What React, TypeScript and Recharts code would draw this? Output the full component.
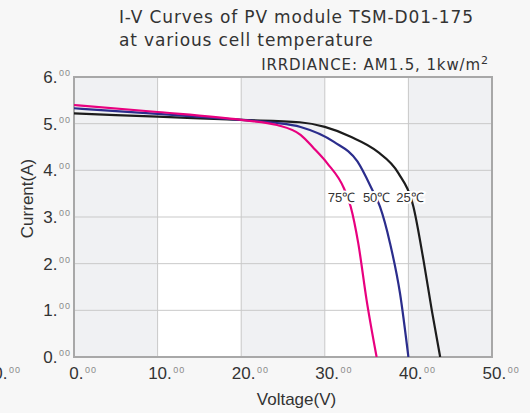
import React from 'react';
import {
  LineChart,
  Line,
  XAxis,
  YAxis,
  CartesianGrid,
  ReferenceArea,
  ReferenceDot,
} from 'recharts';

// voltage (V) / current (A)
const V_25 = [0, 10, 20, 27, 30, 33.1, 36.3, 38.8, 40.6, 41.8, 42.8, 43.8];
const I_25 = [5.22, 5.15, 5.08, 5.03, 4.93, 4.72, 4.4, 3.94, 3.22, 2.08, 1.0, 0];

const V_50 = [0, 10, 20, 24, 27.1, 31.1, 33.9, 35.6, 36.6, 37.8, 39.0, 40.0];
const I_50 = [5.33, 5.21, 5.08, 5.02, 4.93, 4.61, 4.19, 3.61, 3.22, 2.44, 1.36, 0];

const V_75 = [0, 10, 20, 24.3, 27.1, 28.7, 30.3, 32.3, 33.1, 34.0, 35.0, 36.2];
const I_75 = [5.4, 5.25, 5.08, 4.97, 4.76, 4.47, 4.15, 3.61, 3.22, 2.44, 1.22, 0];

const VOLTAGE_TICKS = [0, 10, 20, 30, 40, 50];
const CURRENT_TICKS = [0, 1, 2, 3, 4, 5, 6];

const TEMP_LABELS = ['75℃', '50℃', '25℃'];
const TEMP_LABEL_V = [32.0, 36.2, 40.2];
const TEMP_LABEL_I = 3.42;

const toPoints = (vs: number[], is: number[]) => vs.map((v, k) => ({ v, i: is[k] }));

const COLORS = {
  t25: '#1c1c1c',
  t50: '#2b2d8c',
  t75: '#e8007f',
};

const TICK_FONT = '"Liberation Sans", Arial, sans-serif';
const X_STEP = (492 - 74) / 5;

const XTick = ({ x, y, payload }: any) => {
  const draw = (cx: number, val: number, key: string) => {
    const digits = String(val);
    const w = digits.replace('-', '').length * 9.45 + (val < 0 ? 5.7 : 0);
    return (
      <text key={key} x={cx - w / 2} y={y + 14} fontFamily={TICK_FONT} fill="#333">
        <tspan fontSize={17}>{digits}.</tspan>
        <tspan fontSize={9} dx={1.5} dy={-6.5} fill="#8a8a8a" letterSpacing={1}>
          00
        </tspan>
      </text>
    );
  };
  return (
    <g>
      {payload.value === 0 && draw(x - X_STEP, -10, 'neg')}
      {draw(x, payload.value, 'main')}
    </g>
  );
};

const YTick = ({ x, y, payload }: any) => (
  <text x={71} y={y + 6} textAnchor="end" fontFamily={TICK_FONT} fill="#333">
    <tspan fontSize={17}>{payload.value}.</tspan>
    <tspan fontSize={9} dx={1.5} dy={-7} fill="#8a8a8a" letterSpacing={1}>
      00
    </tspan>
  </text>
);

const TempLabel = (text: string) => (props: any) => (
  <text
    x={props.cx}
    y={props.cy}
    textAnchor="middle"
    dominantBaseline="central"
    fontSize={13}
    fontFamily={TICK_FONT}
    fill="#333"
    stroke="#ffffff"
    strokeWidth={4}
    paintOrder="stroke"
  >
    {text}
  </text>
);

export default function App() {
  const series = [
    { key: 't25', data: toPoints(V_25, I_25), color: COLORS.t25 },
    { key: 't50', data: toPoints(V_50, I_50), color: COLORS.t50 },
    { key: 't75', data: toPoints(V_75, I_75), color: COLORS.t75 },
  ];

  return (
    <div
      style={{
        position: 'fixed',
        left: 0,
        top: 0,
        width: 530,
        height: 413,
        background: '#f7f7f7',
      }}
    >
      <LineChart width={530} height={413} margin={{ top: 77, right: 38, left: 0, bottom: 0 }}>
        <CartesianGrid
          stroke="#c9c9c9"
          strokeWidth={1}
          verticalFill={['#f0f1f3', '#ffffff']}
          fillOpacity={1}
        />
        <XAxis
          type="number"
          dataKey="v"
          domain={[0, 50]}
          ticks={VOLTAGE_TICKS}
          height={56}
          axisLine={false}
          tickLine={false}
          tick={<XTick />}
          allowDataOverflow
        />
        <YAxis
          type="number"
          dataKey="i"
          domain={[0, 6]}
          ticks={CURRENT_TICKS}
          width={74}
          axisLine={false}
          tickLine={false}
          tick={<YTick />}
          allowDataOverflow
        />
        <ReferenceArea
          x1={0}
          x2={50}
          y1={0}
          y2={6}
          fill="none"
          stroke="#a8a8a8"
          strokeWidth={2}
          ifOverflow="visible"
        />
        {series.map((s) => (
          <Line
            key={s.key}
            data={s.data}
            dataKey="i"
            type="monotone"
            stroke={s.color}
            strokeWidth={2.2}
            dot={false}
            activeDot={false}
            isAnimationActive={false}
          />
        ))}
        {TEMP_LABELS.map((t, k) => (
          <ReferenceDot
            key={t}
            x={TEMP_LABEL_V[k]}
            y={TEMP_LABEL_I}
            r={0}
            shape={TempLabel(t)}
          />
        ))}

        <text
          x={119}
          y={23}
          fontFamily='"DejaVu Sans", sans-serif'
          fontSize={17}
          letterSpacing={0.85}
          fill="#333"
        >
          I-V Curves of PV module TSM-D01-175
        </text>
        <text
          x={119}
          y={45.6}
          fontFamily='"DejaVu Sans", sans-serif'
          fontSize={17}
          letterSpacing={0.85}
          fill="#333"
        >
          at various cell temperature
        </text>
        <text
          x={489}
          y={70}
          textAnchor="end"
          fontFamily='"DejaVu Sans", sans-serif'
          fontSize={15}
          letterSpacing={0.9}
          fill="#333"
        >
          IRRDIANCE: AM1.5, 1kw/m
          <tspan fontSize={11} dy={-6}>
            2
          </tspan>
        </text>
        <text
          x={296.5}
          y={405}
          textAnchor="middle"
          fontFamily={TICK_FONT}
          fontSize={17}
          fill="#333"
        >
          Voltage(V)
        </text>
        <text
          x={33}
          y={198.5}
          textAnchor="middle"
          transform="rotate(-90 33 198.5)"
          fontFamily={TICK_FONT}
          fontSize={17}
          fill="#333"
        >
          Current(A)
        </text>
      </LineChart>
    </div>
  );
}
